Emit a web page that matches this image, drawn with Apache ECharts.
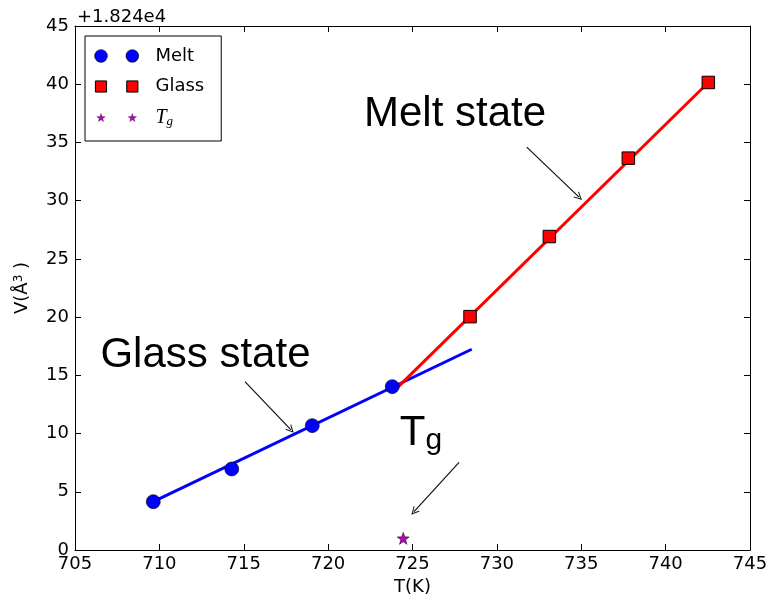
<!DOCTYPE html>
<html>
<head>
<meta charset="utf-8">
<script src="https://cdn.jsdelivr.net/npm/echarts@6/dist/echarts.min.js"></script>
<style>
html,body{margin:0;padding:0;background:#fff;}
#chart{width:771px;height:603px;}
</style>
</head>
<body>
<div id="chart"></div>
<script>
// ---- data (V offset by +1.824e4) ----
const meltT = [709.64, 714.29, 719.06, 723.80];
const meltV = [4.15, 6.96, 10.68, 14.03];
const glassT = [728.41, 733.11, 737.79, 742.53];
const glassV = [20.04, 26.92, 33.65, 40.15];
const tgT = [724.45];
const tgV = [1.0];
const glassFitT = [709.64, 728.51];
const glassFitV = [4.15, 17.24];
const meltFitT = [723.80, 742.53];
const meltFitV = [13.51, 40.15];
// annotations
const noteNames = ['Melt state', 'Glass state', 'Tg'];
const noteT = [727.52, 712.73, 725.5];
const noteV = [37.38, 16.7, 9.97];
const arrowFromT = [731.77, 715.07, 727.76];
const arrowFromV = [34.6, 14.46, 7.53];
const arrowToT = [734.87, 717.8, 725.09];
const arrowToV = [30.3, 10.31, 3.29];
// axis ticks
const xMin = 705, xMax = 745, xStep = 5;
const yMin = 0, yMax = 45, yStep = 5;
const offsetText = '+1.824e4';

function pairs(a, b) { return a.map((v, i) => [v, b[i]]); }
function starPts(cx, cy, R, r) {
  let s = '';
  for (let i = 0; i < 10; i++) {
    const rad = i % 2 === 0 ? R : r;
    const ang = -Math.PI / 2 + i * Math.PI / 5;
    s += (i === 0 ? 'M' : 'L') + (cx + rad * Math.cos(ang)).toFixed(2) + ',' + (cy + rad * Math.sin(ang)).toFixed(2) + ' ';
  }
  return s + 'Z ';
}
const starSymbol = 'path://' + starPts(50, 50, 50, 20);
const frame = 'M0,0 M400,100 ';
const iconCircle = 'path://' + frame + 'M1,50 A49,49 0 1,0 99,50 A49,49 0 1,0 1,50 Z M242,50 A49,49 0 1,0 340,50 A49,49 0 1,0 242,50 Z';
const iconRect = 'path://' + frame + 'M7,7 L93,7 L93,93 L7,93 Z M248,7 L334,7 L334,93 L248,93 Z';
const iconStar = 'path://' + frame + starPts(50, 50, 34, 14) + starPts(291, 50, 34, 14);
const openArrow = 'path://M5,0 L10,10 L8.6,10 L5,2.8 L1.4,10 L0,10 Z';

const tickFont = { fontFamily: 'DejaVu Sans', fontSize: 18, color: '#000' };
const noteFont = 'Liberation Sans';

const chart = echarts.init(document.getElementById('chart'), null, { renderer: 'canvas' });
const axisCommon = {
  axisLine: { show: true, onZero: false, lineStyle: { color: '#000', width: 1 } },
  axisTick: { show: true, inside: true, length: 6, lineStyle: { color: '#000', width: 1 } },
  splitLine: { show: false }
};
chart.setOption({
  animation: false,
  backgroundColor: '#fff',
  title: {
    text: offsetText, left: 72, top: 3,
    textStyle: { fontFamily: 'DejaVu Sans', fontSize: 18, fontWeight: 'normal', color: '#000' }
  },
  grid: { left: 75, right: 21, top: 26, bottom: 53 },
  xAxis: [
    Object.assign({}, axisCommon, {
      type: 'value', position: 'bottom', min: xMin, max: xMax, interval: xStep,
      axisLabel: Object.assign({ margin: 5 }, tickFont),
      name: 'T(K)', nameLocation: 'middle', nameGap: 28,
      nameTextStyle: tickFont
    }),
    Object.assign({}, axisCommon, {
      type: 'value', position: 'top', min: xMin, max: xMax, interval: xStep,
      axisLabel: { show: false }
    })
  ],
  yAxis: [
    Object.assign({}, axisCommon, {
      type: 'value', position: 'left', min: yMin, max: yMax, interval: yStep,
      axisLabel: Object.assign({ margin: 6 }, tickFont),
      name: 'V(Å{sup|3} )', nameLocation: 'middle', nameGap: 44, nameRotate: 90,
      nameTextStyle: Object.assign({}, tickFont, {
        rich: { sup: { fontFamily: 'DejaVu Sans', fontSize: 12, color: '#000', verticalAlign: 'top', lineHeight: 18 } }
      })
    }),
    Object.assign({}, axisCommon, {
      type: 'value', position: 'right', min: yMin, max: yMax, interval: yStep,
      axisLabel: { show: false }
    })
  ],
  legend: {
    orient: 'vertical', left: 85, top: 36,
    padding: [11, 17, 13, 9], itemGap: 12.5,
    itemWidth: 52, itemHeight: 13,
    borderColor: '#000', borderWidth: 1, borderRadius: 0, backgroundColor: '#fff',
    data: [
      { name: 'Melt', icon: iconCircle, itemStyle: { color: '#0000ff', borderColor: '#000', borderWidth: 0.6 } },
      { name: 'Glass', icon: iconRect, itemStyle: { color: '#ff0000', borderColor: '#000', borderWidth: 1 } },
      { name: 'Tg', icon: iconStar, itemStyle: { color: '#bf00bf', borderColor: '#000', borderWidth: 0.3 } }
    ],
    formatter: function (name) {
      if (name === 'Tg') return '{sp|}{ti|T}{ts|g}';
      return '{sp|}{n|' + name + '}';
    },
    textStyle: {
      color: '#000', fontSize: 18, fontFamily: 'DejaVu Sans',
      rich: {
        sp: { width: 4, lineHeight: 20 },
        n: { fontFamily: 'DejaVu Sans', fontSize: 18, lineHeight: 20, color: '#000' },
        ti: { fontFamily: 'Liberation Serif', fontStyle: 'italic', fontSize: 20, lineHeight: 20, color: '#000' },
        ts: { fontFamily: 'Liberation Serif', fontStyle: 'italic', fontSize: 13, lineHeight: 13, verticalAlign: 'bottom', color: '#000' }
      }
    }
  },
  series: [
    {
      name: 'glassFit', type: 'line', data: pairs(glassFitT, glassFitV),
      showSymbol: false, symbol: 'none', lineStyle: { color: '#0000ff', width: 3 }, silent: true, z: 2
    },
    {
      name: 'meltFit', type: 'line', data: pairs(meltFitT, meltFitV),
      showSymbol: false, symbol: 'none', lineStyle: { color: '#ff0000', width: 3 }, silent: true, z: 2
    },
    {
      name: 'Melt', type: 'scatter', data: pairs(meltT, meltV),
      symbol: 'circle', symbolSize: 14,
      itemStyle: { color: '#0000ff', borderColor: '#000', borderWidth: 0.6, opacity: 1 }, z: 3
    },
    {
      name: 'Glass', type: 'scatter', data: pairs(glassT, glassV),
      symbol: 'rect', symbolSize: 12.5,
      itemStyle: { color: '#ff0000', borderColor: '#000', borderWidth: 1, opacity: 1 }, z: 3
    },
    {
      name: 'Tg', type: 'scatter', data: pairs(tgT, tgV),
      symbol: starSymbol, symbolSize: 12,
      itemStyle: { color: '#bf00bf', borderColor: '#000', borderWidth: 0.5, opacity: 1 }, z: 3
    },
    {
      name: 'notes', type: 'scatter', symbolSize: 0, silent: true, z: 4,
      itemStyle: { color: '#000', opacity: 1 },
      data: noteNames.map((n, i) => ({ name: n, value: [noteT[i], noteV[i]] })),
      label: {
        show: true, position: 'inside', color: '#000', opacity: 1,
        textBorderWidth: 0, textBorderColor: 'transparent',
        fontFamily: noteFont, fontSize: 42,
        formatter: function (p) {
          if (p.name === 'Tg') return '{T|T}{g|g}';
          return '{m|' + p.name + '}';
        },
        rich: {
          m: { fontFamily: noteFont, fontSize: 42, lineHeight: 44, color: '#000', textBorderWidth: 0 },
          T: { fontFamily: noteFont, fontSize: 42, lineHeight: 44, color: '#000', textBorderWidth: 0 },
          g: { fontFamily: noteFont, fontSize: 30, lineHeight: 28, verticalAlign: 'bottom', color: '#000', textBorderWidth: 0 }
        }
      },
      markLine: {
        silent: true, animation: false,
        symbol: ['none', openArrow], symbolSize: 8,
        lineStyle: { color: '#111', width: 1.2, type: 'solid', opacity: 1 },
        itemStyle: { color: '#111' },
        label: { show: false },
        data: arrowFromT.map((t, i) => [
          { coord: [t, arrowFromV[i]] },
          { coord: [arrowToT[i], arrowToV[i]] }
        ])
      }
    }
  ]
});
</script>
</body>
</html>
